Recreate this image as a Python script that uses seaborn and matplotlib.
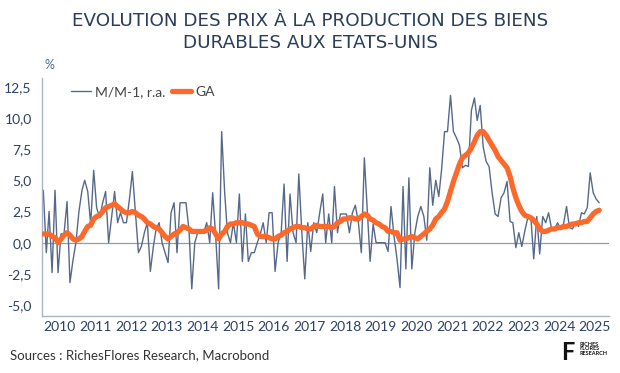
import pandas as pd
import seaborn as sns
import matplotlib.pyplot as plt

# M/M-1 annualised rate, monthly from Jan 2010
mm = [4.2, -0.8, 2.5, -2.4, 4.2, -2.4, 0.7, 0.7, 3.3, -3.2,
      -1.4, 0.0, 2.5, 4.2, 5.0, 4.1, 1.5, 5.8, 2.8, 2.0,
      3.2, 4.1, 0.0, 2.0, 4.1, 1.6, 2.4, 1.6, 1.6, 3.5,
      5.7, 2.4, -0.8, -0.3, 0.8, 1.6, -2.3, -0.3, 1.1, 1.6,
      0.0, -0.8, -1.6, 2.4, 3.2, -0.8, 3.2, 3.2, 3.2, 1.0,
      -3.7, 0.0, 0.8, 0.8, 0.8, 1.6, 0.0, 4.0, 0.5, -3.7,
      8.9, 4.0, 0.8, 0.0, 1.6, 0.0, 3.9, -1.5, 2.3, -1.5,
      -0.8, -0.8, 0.0, 0.7, 1.6, 0.0, 2.4, 2.4, -2.3, 0.0,
      0.8, 4.7, -1.5, 3.9, 0.8, 0.0, 5.5, 0.8, -2.9, 1.6,
      -0.7, 1.6, 0.8, 2.4, 3.9, 0.0, 2.3, 0.0, 4.5, 0.8,
      2.3, 2.3, 2.3, 0.8, 2.4, 3.0, 1.6, -0.8, 6.8, 2.4,
      -1.5, 1.5, 0.0, 0.0, 0.0, 0.0, -0.7, 2.9, 0.5, -1.3,
      -3.6, 4.5, -2.1, 5.2, -2.1, 0.8, 2.1, 2.9, 2.1, 0.2,
      6.0, 3.0, 5.0, 3.7, 5.8, 8.9, 8.9, 11.8, 8.9, 8.4,
      7.8, 6.0, 6.2, 6.1, 10.6, 11.6, 9.8, 11.0, 7.7, 6.5,
      6.1, 4.0, 2.3, 2.1, 3.6, 4.0, 4.9, 1.7, 1.6, -0.4,
      0.8, -0.3, 0.9, 2.0, 2.1, -1.3, 2.1, -0.9, 2.1, 1.6,
      2.4, 1.1, 1.1, 1.6, 1.1, 1.5, 2.9, 1.2, 1.1, 1.7,
      1.3, 2.4, 2.3, 2.8, 5.6, 4.0, 3.5, 3.2]

# GA (year-on-year)
ga = [0.7, 0.7, 0.7, 0.5, 0.4, 0.0, 0.3, 0.6, 0.8, 0.6,
      0.3, 0.2, 0.3, 0.5, 0.9, 1.3, 1.4, 1.9, 2.1, 2.2,
      2.5, 2.8, 2.9, 3.0, 3.1, 2.9, 2.7, 2.5, 2.4, 2.4,
      2.5, 2.4, 2.2, 2.1, 1.9, 1.6, 1.5, 1.3, 1.2, 1.1,
      0.8, 0.5, 0.3, 0.5, 0.7, 0.8, 1.0, 1.3, 1.2, 1.1,
      0.9, 0.9, 0.9, 0.9, 0.9, 1.0, 1.2, 1.1, 0.7, 0.3,
      0.7, 0.9, 1.3, 1.5, 1.5, 1.6, 1.6, 1.6, 1.5, 1.5,
      1.4, 1.3, 0.7, 0.5, 0.5, 0.5, 0.4, 0.3, 0.3, 0.5,
      0.6, 0.8, 0.9, 1.1, 1.2, 1.3, 1.3, 1.2, 1.2, 1.1,
      1.1, 1.3, 1.4, 1.3, 1.3, 1.3, 1.3, 1.2, 1.3, 1.6,
      1.7, 1.9, 1.9, 2.0, 2.0, 1.9, 1.9, 2.1, 2.3, 2.2,
      1.9, 1.8, 1.6, 1.5, 1.3, 1.2, 0.9, 0.9, 0.8, 0.8,
      0.2, 0.3, 0.3, 0.4, 0.5, 0.4, 0.3, 0.5, 0.7, 0.9,
      1.1, 1.4, 1.9, 2.1, 2.4, 2.7, 3.3, 4.1, 4.9, 5.6,
      6.3, 6.8, 7.0, 7.2, 7.6, 8.1, 8.6, 8.9, 8.9, 8.6,
      8.2, 7.8, 7.4, 6.9, 6.6, 6.3, 6.0, 5.3, 4.4, 3.6,
      3.0, 2.5, 2.2, 2.1, 2.0, 1.8, 1.5, 1.1, 0.9, 0.9,
      1.0, 1.1, 1.1, 1.2, 1.2, 1.3, 1.3, 1.4, 1.5, 1.5,
      1.6, 1.6, 1.7, 1.7, 2.0, 2.3, 2.5, 2.6]

years = list(range(2010, 2026))
yticks = [-5.0, -2.5, 0.0, 2.5, 5.0, 7.5, 10.0, 12.5]

dates = pd.date_range("2010-01-01", periods=len(mm), freq="MS") + pd.Timedelta(days=14)
df = pd.DataFrame({"date": dates, "mm": mm, "ga": ga})

sns.set_theme(style="white")
plt.rcParams["font.family"] = ["Lato", "DejaVu Sans"]

navy = "#2c4066"
fig = plt.figure(figsize=(6.2, 3.73), dpi=100)
ax = fig.add_axes([0.067, 0.153, 0.915, 0.638])

ax.axhline(0, color="#9a9a9a", lw=0.9, zorder=1)
sns.lineplot(data=df, x="date", y="mm", ax=ax, color="#56698a", lw=1.0,
             label="M/M-1, r.a.", zorder=2)
sns.lineplot(data=df, x="date", y="ga", ax=ax, color="#fb6a2c", lw=3.8,
             label="GA", zorder=3)

ax.set_ylim(-5.87, 13.2)
ax.set_xlim(pd.Timestamp("2009-12-28"), pd.Timestamp("2025-11-22"))
ax.set_yticks(yticks)
ax.set_yticklabels([f"{v:.1f}".replace(".", ",") for v in yticks])
ax.set_xticks([pd.Timestamp(f"{y}-01-01") for y in years])
ax.set_xticklabels([])
ax.set_xticks([pd.Timestamp(f"{y}-07-02") for y in years], minor=True)
ax.set_xticklabels([str(y) for y in years], minor=True)
ax.tick_params(axis="x", which="major", length=4, width=0.8, color="#aab4c3", direction="out")
ax.tick_params(axis="x", which="minor", length=0, pad=4, labelsize=10, labelcolor=navy)
ax.tick_params(axis="y", length=4, width=0.8, color="#aab4c3", direction="out",
               labelsize=10, labelcolor=navy, pad=3)
ax.set_xlabel("")
ax.set_ylabel("")

for side in ["top", "right"]:
    ax.spines[side].set_visible(False)
for side in ["left", "bottom"]:
    ax.spines[side].set_color("#aab4c3")
    ax.spines[side].set_linewidth(1.0)

leg = ax.legend(loc="upper left", bbox_to_anchor=(0.03, 1.02), ncol=2, frameon=False,
                fontsize=10, handlelength=1.4, handletextpad=0.3, columnspacing=0.5)
for t in leg.get_texts():
    t.set_color("#444444")

fig.text(0.072, 0.815, "%", fontsize=9, color="#4a6a9a")

fig.text(0.5, 0.945, "EVOLUTION DES PRIX À LA PRODUCTION DES BIENS", ha="center", va="center",
         fontsize=13.2, color="#2b3d5b", family="DejaVu Sans")
fig.text(0.5, 0.885, "DURABLES AUX ETATS-UNIS", ha="center", va="center",
         fontsize=13.2, color="#2b3d5b", family="DejaVu Sans")

fig.text(0.016, 0.048, "Sources : RichesFlores Research, Macrobond", fontsize=9.5,
         color="#333333", va="center")

fig.text(0.905, 0.055, "F", fontsize=17, fontweight="bold", color="#111111", va="center")
fig.text(0.935, 0.065, "RICHES\nFLORES\nRESEARCH", fontsize=4, fontweight="bold",
         color="#111111", va="center", linespacing=0.9)

fig.savefig("out.png", dpi=100)
